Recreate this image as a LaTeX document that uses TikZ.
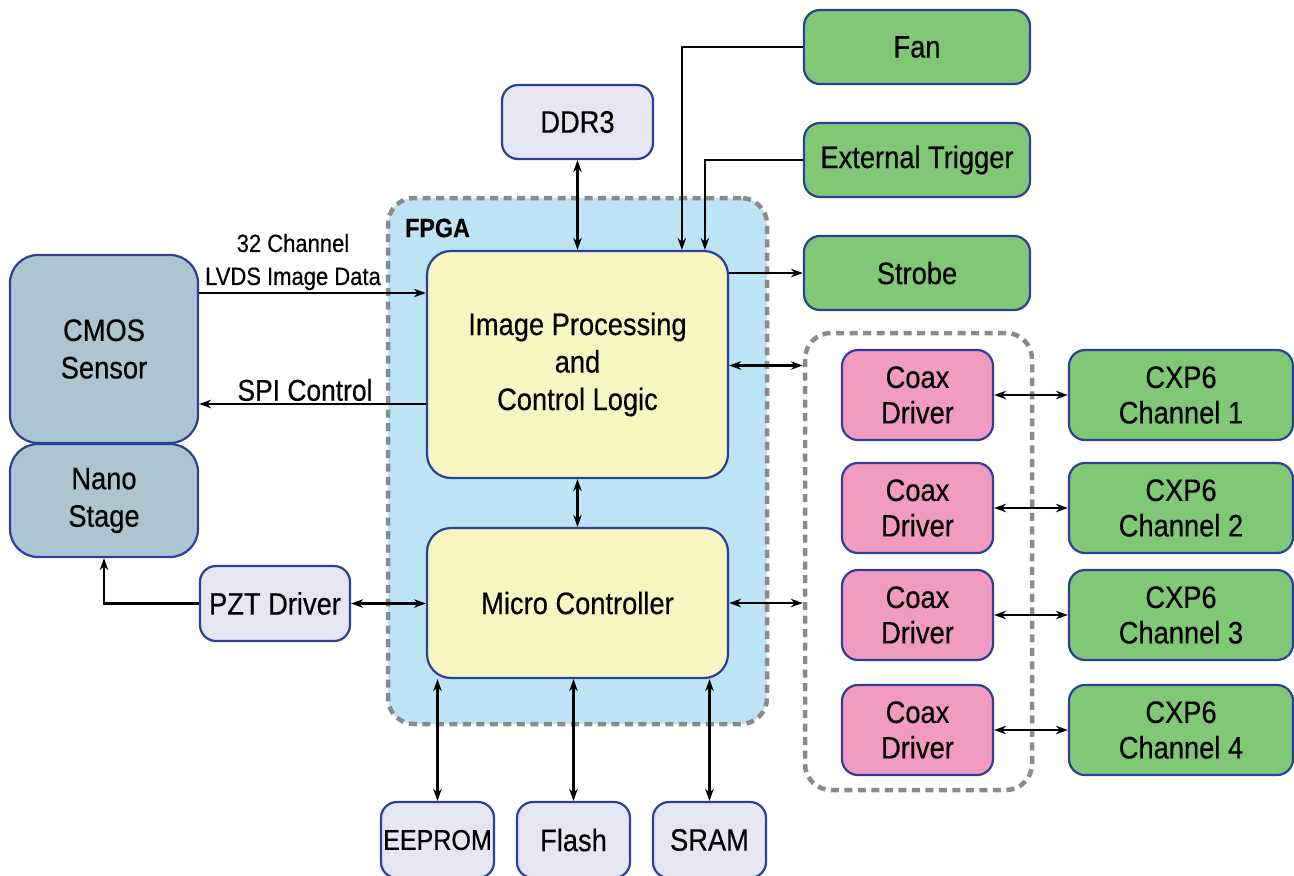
\documentclass[tikz,border=0pt]{standalone}
\usepackage{fontspec}
\setmainfont{Liberation Sans}[FakeStretch=0.88,FakeBold=0.4]
\usetikzlibrary{arrows.meta,calc}
\definecolor{bordblue}{RGB}{43,63,155}
\definecolor{grn}{RGB}{128,200,118}
\definecolor{pnk}{RGB}{241,155,192}
\definecolor{lav}{RGB}{230,230,243}
\definecolor{ylw}{RGB}{247,246,192}
\definecolor{fpgablue}{RGB}{189,228,244}
\definecolor{steel}{RGB}{172,197,208}
\definecolor{dashgray}{RGB}{138,138,138}
\tikzset{
  box/.style={draw=bordblue, line width=2.2pt, rounded corners=16pt, align=center, inner sep=0pt,
    font=\fontsize{31}{37.5}\selectfont},
  greenbox/.style={box, fill=grn, minimum width=226pt, minimum height=74pt},
  lavbox/.style={box, fill=lav},
  coaxbox/.style={box, fill=pnk, minimum width=151pt, minimum height=90pt, font=\fontsize{31}{35.5}\selectfont},
  cxpbox/.style={box, fill=grn, minimum width=224pt, minimum height=90pt, font=\fontsize{31}{35.5}\selectfont},
  ylwbox/.style={box, fill=ylw, rounded corners=24pt, minimum width=301pt},
  steelbox/.style={box, fill=steel, rounded corners=28pt, minimum width=188pt},
  region/.style={draw=dashgray, line width=4.5pt, dash pattern=on 8pt off 5.5pt, rounded corners=26pt, inner sep=0pt},
  arr/.style={line width=2.2pt, -{Stealth[length=12pt,width=8.5pt]}},
  darr/.style={line width=2.2pt, {Stealth[length=12pt,width=8.5pt]}-{Stealth[length=12pt,width=8.5pt]}},
  lbl/.style={align=center, inner sep=0pt}
}
\begin{document}
\begin{tikzpicture}[x=1pt,y=-1pt]
\useasboundingbox (0,0) rectangle (1294,876);
\clip (0,0) rectangle (1294,876);
% regions
\node[region, fill=fpgablue, minimum width=379pt, minimum height=526pt] (fpga) at (577.5,461) {};
\node[lbl, font=\fontsize{26.5}{30}\selectfont\bfseries] (fpgalbl) at (437.5,228) {FPGA};
\node[region, minimum width=227pt, minimum height=457pt] (coaxreg) at (918.5,561.5) {};
% top right
\node[greenbox] (fan) at (917,47) {Fan};
\node[greenbox] (trig) at (917,160) {External Trigger};
\node[greenbox] (strobe) at (917,273) {Strobe};
\node[lavbox, minimum width=151pt, minimum height=74pt] (ddr) at (577.5,122) {DDR3};
% FPGA internals
\node[ylwbox, minimum height=227pt] (img) at (577.5,364.5) {Image Processing\\and\\Control Logic};
\node[ylwbox, minimum height=150pt] (mc) at (577.5,603) {Micro Controller};
% left
\node[steelbox, minimum height=188pt] (cmos) at (104,349) {CMOS\\Sensor};
\node[steelbox, minimum height=113pt] (nano) at (104,500.5) {Nano\\Stage};
\node[lavbox, minimum width=150pt, minimum height=75pt] (pzt) at (275,603.5) {PZT Driver};
% bottom
\node[lavbox, minimum width=113pt, minimum height=76pt, font=\fontsize{28.5}{34}\selectfont] (eeprom) at (437.5,840) {EEPROM};
\node[lavbox, minimum width=113pt, minimum height=76pt] (flash) at (573.5,840) {Flash};
\node[lavbox, minimum width=113pt, minimum height=76pt] (sram) at (709.5,840) {SRAM};
% coax / cxp
\node[coaxbox] (cx1) at (917.5,395) {Coax\\Driver};
\node[coaxbox] (cx2) at (917.5,508) {Coax\\Driver};
\node[coaxbox] (cx3) at (917.5,615) {Coax\\Driver};
\node[coaxbox] (cx4) at (917.5,730) {Coax\\Driver};
\node[cxpbox] (ch1) at (1181,395) {CXP6\\Channel 1};
\node[cxpbox] (ch2) at (1181,508) {CXP6\\Channel 2};
\node[cxpbox] (ch3) at (1181,615) {CXP6\\Channel 3};
\node[cxpbox] (ch4) at (1181,730) {CXP6\\Channel 4};
% labels
\node[lbl, font=\fontsize{25}{33}\selectfont] (lvds) at (293,262) {32 Channel\\LVDS Image Data};
\node[lbl, font=\fontsize{30}{35}\selectfont] (spi) at (305,390) {SPI Control};
% connectors
\draw[darr] (ddr.south) -- (img.north);
\draw[arr] (fan.west) -| ([xshift=256pt]img.north west);
\draw[arr] (trig.west) -| ([xshift=279pt]img.north west);
\draw[arr] (strobe.west -| img.east) -- (strobe.west);
\draw[darr] ([yshift=-1pt]img.east) -- ([yshift=-1pt]img.east -| coaxreg.west);
\draw[darr] (mc.east) -- (mc.east -| coaxreg.west);
\draw[darr] (img.south) -- (mc.north);
\draw[arr] ([yshift=56pt]cmos.east) -- ([yshift=56pt]cmos.east -| img.west);
\draw[arr] ([yshift=-55pt]cmos.east -| img.west) -- ([yshift=-55pt]cmos.east);
\draw[darr] (pzt.east) -- (pzt.east -| mc.west);
\draw[arr] (pzt.west) -| (nano.south);
\draw[darr] (eeprom.north |- mc.south) -- (eeprom.north);
\draw[darr] (flash.north |- mc.south) -- (flash.north);
\draw[darr] (sram.north |- mc.south) -- (sram.north);
\draw[darr] (cx1.east) -- (ch1.west);
\draw[darr] (cx2.east) -- (ch2.west);
\draw[darr] (cx3.east) -- (ch3.west);
\draw[darr] (cx4.east) -- (ch4.west);
\end{tikzpicture}
\end{document}
